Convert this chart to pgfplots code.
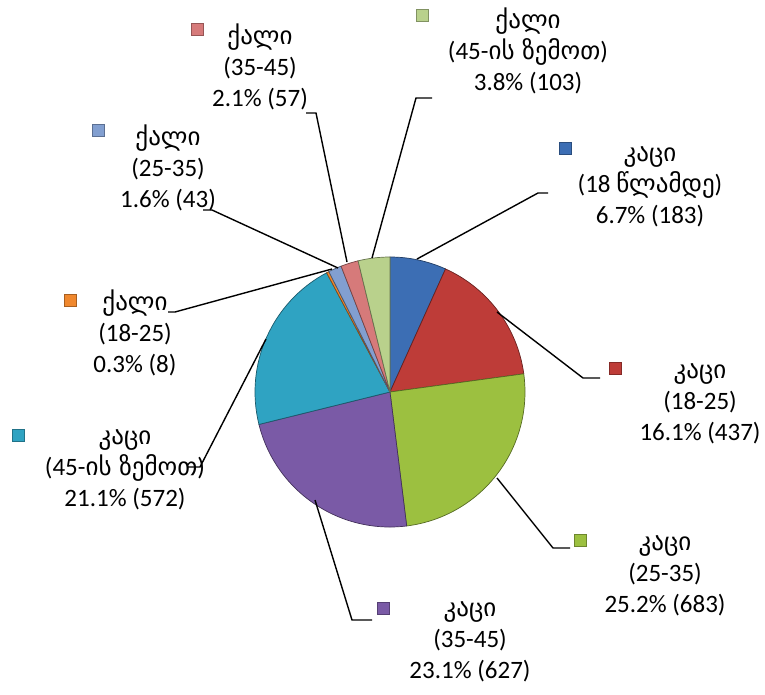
\documentclass[border=0pt]{standalone}
\usepackage{pgfplots}
\usepackage{pgfplotstable}
\pgfplotsset{compat=1.18}
\usepackage{fontspec}
\setmainfont{Carlito}
\newfontfamily\geo{DejaVu Sans}[Scale=1.0]
\definecolor{cA}{HTML}{3C6EB4}
\definecolor{cB}{HTML}{BE3C38}
\definecolor{cC}{HTML}{9CC040}
\definecolor{cD}{HTML}{7A5AA6}
\definecolor{cE}{HTML}{2FA3C2}
\definecolor{cF}{HTML}{F0882E}
\definecolor{cG}{HTML}{829FD0}
\definecolor{cH}{HTML}{D67A7A}
\definecolor{cI}{HTML}{B9D18C}
\pgfplotstableread{
value col
183 cA
437 cB
683 cC
627 cD
572 cE
8 cF
43 cG
57 cH
103 cI
}\piedata
\begin{document}
\begin{tikzpicture}
\begin{axis}[
  at={(0,0)}, anchor=south west,
  width=765bp, height=695bp, scale only axis,
  xmin=0, xmax=765, ymin=0, ymax=695, y dir=reverse,
  hide axis, clip=false,
]
% pie slices from the table
\pgfplotstablegetrowsof{\piedata}
\pgfmathtruncatemacro{\lastrow}{\pgfplotsretval-1}
\def\total{0}
\pgfplotsforeachungrouped \i in {0,...,\lastrow}{%
  \pgfplotstablegetelem{\i}{value}\of\piedata
  \pgfmathsetmacro{\total}{\total+\pgfplotsretval}%
}
\def\cum{0}
\pgfplotsforeachungrouped \i in {0,...,\lastrow}{%
  \pgfplotstablegetelem{\i}{value}\of\piedata
  \let\val\pgfplotsretval
  \pgfplotstablegetelem{\i}{col}\of\piedata
  \let\colr\pgfplotsretval
  \pgfmathsetmacro{\angA}{90-(\cum/\total)*360}%
  \pgfmathsetmacro{\angB}{90-((\cum+\val)/\total)*360}%
  \edef\doslice{\noexpand\fill[fill=\colr, draw=\colr!55!black, line width=0.7bp] (axis cs:390,392) -- ++(\angA:135bp) arc[start angle=\angA, end angle=\angB, radius=135bp] -- cycle;}%
  \doslice
  \pgfmathsetmacro{\cum}{\cum+\val}%
}
% legend-like markers
\addplot[only marks, mark=square*, mark size=6bp, draw=cA!70!black, fill=cA] coordinates {(565,148)};
\addplot[only marks, mark=square*, mark size=6bp, draw=cB!70!black, fill=cB] coordinates {(615,368)};
\addplot[only marks, mark=square*, mark size=6bp, draw=cC!70!black, fill=cC] coordinates {(580,540)};
\addplot[only marks, mark=square*, mark size=6bp, draw=cD!70!black, fill=cD] coordinates {(383,608)};
\addplot[only marks, mark=square*, mark size=6bp, draw=cE!70!black, fill=cE] coordinates {(18,435)};
\addplot[only marks, mark=square*, mark size=6bp, draw=cF!70!black, fill=cF] coordinates {(70,300)};
\addplot[only marks, mark=square*, mark size=6bp, draw=cG!70!black, fill=cG] coordinates {(98,130)};
\addplot[only marks, mark=square*, mark size=6bp, draw=cH!70!black, fill=cH] coordinates {(197,29)};
\addplot[only marks, mark=square*, mark size=6bp, draw=cI!70!black, fill=cI] coordinates {(422,15)};
% leader lines
\draw[black, line width=1.4bp] (axis cs:417,259) -- (axis cs:538,193) -- (axis cs:548,193);
\draw[black, line width=1.4bp] (axis cs:497,312) -- (axis cs:583,378) -- (axis cs:600,378);
\draw[black, line width=1.4bp] (axis cs:497,478) -- (axis cs:553,548) -- (axis cs:570,548);
\draw[black, line width=1.4bp] (axis cs:315,500) -- (axis cs:352,620) -- (axis cs:372,620);
\draw[black, line width=1.4bp] (axis cs:266,339) -- (axis cs:200,467) -- (axis cs:188,467);
\draw[black, line width=1.4bp] (axis cs:332,269) -- (axis cs:175,312) -- (axis cs:168,312);
\draw[black, line width=1.4bp] (axis cs:338,268) -- (axis cs:212,210) -- (axis cs:203,210);
\draw[black, line width=1.4bp] (axis cs:347,262) -- (axis cs:316,113) -- (axis cs:306,113);
\draw[black, line width=1.4bp] (axis cs:372,258) -- (axis cs:416,98) -- (axis cs:432,98);
% labels
\tikzset{lbl/.style={align=center, font=\fontsize{25bp}{31bp}\selectfont, inner sep=0pt}}
\node[lbl] at (axis cs:650,187) {{\geo კაცი}\\(18 {\geo წლამდე})\\6.7\% (183)};
\node[lbl] at (axis cs:700,404) {{\geo კაცი}\\(18-25)\\16.1\% (437)};
\node[lbl] at (axis cs:665,576) {{\geo კაცი}\\(25-35)\\25.2\% (683)};
\node[lbl] at (axis cs:470,642) {{\geo კაცი}\\(35-45)\\23.1\% (627)};
\node[lbl] at (axis cs:125,470) {{\geo კაცი}\\(45-{\geo ის ზემოთ})\\21.1\% (572)};
\node[lbl] at (axis cs:135,333) {{\geo ქალი}\\(18-25)\\0.3\% (8)};
\node[lbl] at (axis cs:168,168) {{\geo ქალი}\\(25-35)\\1.6\% (43)};
\node[lbl] at (axis cs:260,67) {{\geo ქალი}\\(35-45)\\2.1\% (57)};
\node[lbl] at (axis cs:528,51) {{\geo ქალი}\\(45-{\geo ის ზემოთ})\\3.8\% (103)};
\end{axis}
\pgfresetboundingbox
\path (0,0) rectangle (765bp,695bp);
\end{tikzpicture}
\end{document}
